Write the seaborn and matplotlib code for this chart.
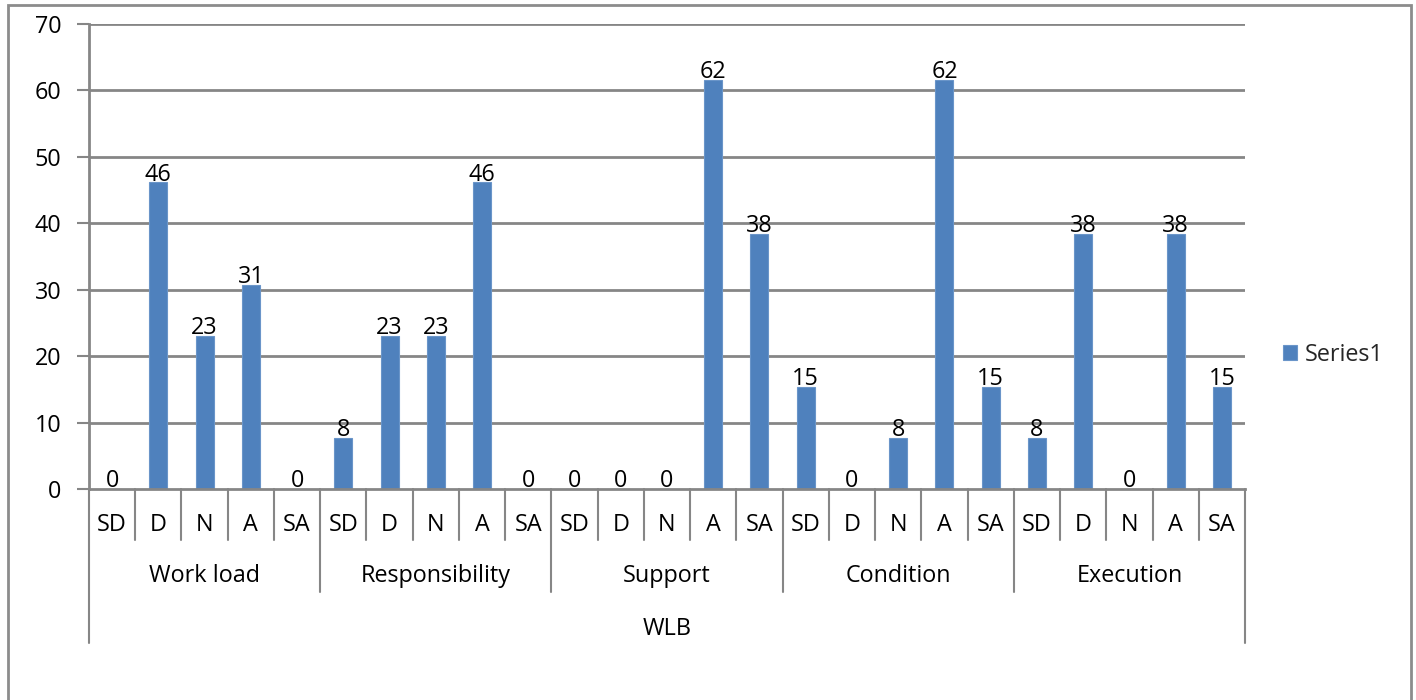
import matplotlib
matplotlib.use("Agg")
import matplotlib.pyplot as plt
import seaborn as sns
import pandas as pd
from matplotlib.patches import Rectangle
from matplotlib.transforms import blended_transform_factory

groups = ["Work load", "Responsibility", "Support", "Condition", "Execution"]
levels = ["SD", "D", "N", "A", "SA"]
work_load = [0, 46.15, 23.08, 30.77, 0]
responsibility = [7.69, 23.08, 23.08, 46.15, 0]
support = [0, 0, 0, 61.54, 38.46]
condition = [15.38, 0, 7.69, 61.54, 15.38]
execution = [7.69, 38.46, 0, 38.46, 15.38]
axis_title = "WLB"
series_name = "Series1"
y_ticks = [0, 10, 20, 30, 40, 50, 60, 70]

series_values = [work_load, responsibility, support, condition, execution]
rows = []
for g, vals in zip(groups, series_values):
    for lv, v in zip(levels, vals):
        rows.append({"key": f"{g}|{lv}", "group": g, "level": lv, "value": v})
df = pd.DataFrame(rows)

sns.set_theme(style="white")
plt.rcParams['font.family'] = ['Open Sans', 'DejaVu Sans']
FS = 16.8

W, H = 1416, 700
fig = plt.figure(figsize=(W / 100, H / 100), dpi=100)
fig.patch.set_facecolor("white")
left, right, bottom, top = 89, 1245, 489, 24
ax = fig.add_axes([left / W, (H - bottom) / H, (right - left) / W, (bottom - top) / H])

bar_color = "#4F81BD"
grid_color = "#868686"
sns.barplot(data=df, x="key", y="value", order=list(df["key"]), color=bar_color,
            width=0.39, ax=ax, saturation=1, edgecolor="#6a95c9", linewidth=0.8,
            label=series_name)

ax.set_ylim(0, 70)
ax.set_xlim(-0.5, len(df) - 0.5)
ax.set_yticks(y_ticks)
ax.set_yticklabels([str(t) for t in y_ticks], fontsize=FS, color="black")
ax.tick_params(axis="y", length=9, width=1.5, color=grid_color, pad=11, left=True)
ax.set_xticks(range(len(df)))
ax.set_xticklabels([])
ax.tick_params(axis="x", length=0)
ax.set_xlabel("")
ax.set_ylabel("")
for t in y_ticks[1:]:
    ax.axhline(t, color=grid_color, lw=2, zorder=0)
for s in ["top", "right"]:
    ax.spines[s].set_visible(False)
ax.spines["left"].set_color(grid_color)
ax.spines["left"].set_linewidth(2)
ax.spines["bottom"].set_color(grid_color)
ax.spines["bottom"].set_linewidth(2)

# data labels
for i, v in enumerate(df["value"]):
    ax.annotate(f"{v:.0f}", (i, v), xytext=(0, -3), textcoords="offset points",
                ha="center", va="bottom", fontsize=FS, color="black")

# multi-level category axis
trans = blended_transform_factory(ax.transData, ax.transAxes)
ph = bottom - top
d1 = -51 / ph
d2 = -103 / ph
d3 = -154 / ph
n = len(df)
for i in range(n + 1):
    x = i - 0.5
    if i == 0 or i == n:
        y2 = d3
    elif i % len(levels) == 0:
        y2 = d2
    else:
        y2 = d1
    ax.plot([x, x], [0, y2], transform=trans, color=grid_color, lw=1.5, clip_on=False)
for i, lv in enumerate(df["level"]):
    ax.text(i, -36 / ph, lv, transform=trans, ha="center", va="center", fontsize=FS, color="black")
for gi, g in enumerate(groups):
    cx = gi * len(levels) + (len(levels) - 1) / 2
    ax.text(cx, -87 / ph, g, transform=trans, ha="center", va="center", fontsize=FS, color="black")
ax.text((n - 1) / 2, -140 / ph, axis_title, transform=trans, ha="center", va="center",
        fontsize=FS, color="black")

# legend
leg = ax.legend(loc="center left", bbox_to_anchor=(1283 / W, (H - 355) / H),
                bbox_transform=fig.transFigure, frameon=False, fontsize=FS,
                handlelength=0.6, handleheight=0.6, handletextpad=0.35, borderaxespad=0,
                borderpad=0)

# chart border
fig.add_artist(Rectangle((8 / W, -0.02), (1411 - 8) / W, (H - 5) / H + 0.02,
                         transform=fig.transFigure, fill=False, edgecolor="#8c8c8c", lw=2))

fig.savefig("out.png", dpi=100, facecolor="white")
